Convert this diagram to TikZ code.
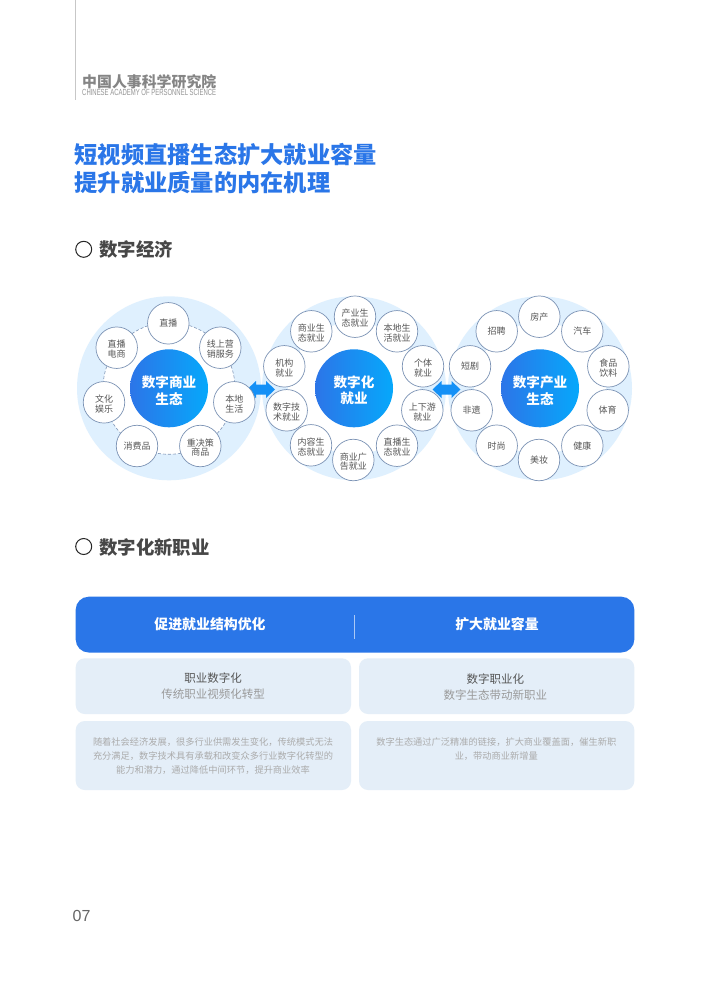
\documentclass[tikz,border=0pt]{standalone}
\usepackage{fontspec}
\usepackage{graphicx}
\setmainfont{Noto Sans CJK SC}
\newfontfamily\latinfont{Liberation Sans}
\usetikzlibrary{shadings}
\definecolor{brandblue}{HTML}{2A76E8}
\definecolor{haloblue}{HTML}{DFF0FE}
\definecolor{panelblue}{HTML}{E4EEF8}
\definecolor{ringblue}{HTML}{7C93B5}
\definecolor{gradL}{HTML}{2C75E8}
\definecolor{gradR}{HTML}{06A8FB}
\definecolor{darktxt}{HTML}{555555}
\definecolor{midtxt}{HTML}{9A9A9A}
\definecolor{lighttxt}{HTML}{ABABAB}
\definecolor{arrowblue}{HTML}{1490F6}
\newcommand{\satgap}{\rule{0pt}{10.8pt}}
\newcommand{\coregap}{\rule{0pt}{16.2pt}}
\tikzset{
  halo/.style={circle,fill=haloblue,minimum size=184pt,inner sep=0pt},
  innerwhite/.style={circle,fill=white,minimum size=132pt,inner sep=0pt},
  dashring/.style={circle,draw=ringblue,densely dashed,line width=.6pt,minimum size=132pt,inner sep=0pt},
  core/.style={circle,minimum size=78pt,inner sep=0pt,left color=gradL,right color=gradR,text=white,font=\fontsize{13.6}{16.4}\selectfont\bfseries,align=center},
  sat/.style={circle,draw=ringblue,line width=.7pt,fill=white,minimum size=41.5pt,inner sep=0pt,text=darktxt,font=\fontsize{9}{9.6}\selectfont,align=center},
  card/.style={rounded corners=9pt,fill=panelblue},
  twoway/.style={fill=arrowblue},
  headtxt/.style={text=white,font=\fontsize{13.9}{16}\selectfont\bfseries,inner sep=0pt},
  sectxt/.style={text=black!72,font=\fontsize{18.4}{20}\selectfont\bfseries,anchor=west,inner sep=0pt},
  secmark/.style={circle,draw=black!85,line width=1pt,minimum size=16pt,inner sep=0pt},
  titletxt/.style={text=brandblue,font=\fontsize{23.25}{27.7}\selectfont\bfseries,anchor=west,inner sep=0pt},
  roletxt/.style={text=darktxt,font=\fontsize{11.5}{14}\selectfont,inner sep=0pt},
  subtxt/.style={text=midtxt,font=\fontsize{11.5}{14}\selectfont,inner sep=0pt},
  bodytxt/.style={text=lighttxt,font=\fontsize{9.23}{13.8}\selectfont,align=center,inner sep=0pt},
}
\begin{document}
\begin{tikzpicture}[x=1pt,y=-1pt]
\useasboundingbox (0,0) rectangle (710,996);
\fill[white] (0,0) rectangle (710,996);
% header
\draw[black!22,line width=1pt] (75.7,0) -- (75.7,100);
\node[text=black!48,font=\fontsize{14.9}{15}\selectfont\bfseries,anchor=west,inner sep=0pt] (logocn) at (82,82) {中国人事科学研究院};
\node[text=black!42,anchor=west,inner sep=0pt] (logoen) at (82,92.3) {\resizebox{134pt}{6.2pt}{\latinfont CHINESE ACADEMY OF PERSONNEL SCIENCE}};
\node[titletxt] (title1) at (74.5,155) {短视频直播生态扩大就业容量};
\node[titletxt] (title2) at (74.5,182.7) {提升就业质量的内在机理};
\node[secmark] (mark1) at (83.7,249.3) {};
\node[sectxt] (sec1) at (99,249.8) {数字经济};
\node[secmark] (mark2) at (83.7,546.5) {};
\node[sectxt] (sec2) at (99,547.3) {数字化新职业};
% halos
\node[halo] (h1) at (169,388.3) {};
\node[halo] (h2) at (354,388.3) {};
\node[halo] (h3) at (540,388.3) {};
\node[innerwhite] (w1) at (169,388.3) {};
\node[innerwhite] (w2) at (354,388.3) {};
\node[innerwhite] (w3) at (540,388.3) {};
\node[dashring] (ring1) at (169,388.3) {};
% arrows
\fill[twoway] (247,389.5) -- (256,381) -- (256,384.5) -- (266,384.5) -- (266,381) -- (275,389.5) -- (266,398) -- (266,394.5) -- (256,394.5) -- (256,398) -- cycle;
\fill[twoway] (432.5,389.5) -- (441.5,381) -- (441.5,384.5) -- (451.5,384.5) -- (451.5,381) -- (460.5,389.5) -- (451.5,398) -- (451.5,394.5) -- (441.5,394.5) -- (441.5,398) -- cycle;
% cores
\node[core] (c1) at (169,388.3) {\coregap 数字商业\\生态};
\node[core] (c2) at (354,388.3) {\coregap 数字化\\就业};
\node[core] (c3) at (540,388.3) {\coregap 数字产业\\生态};
% left satellites
\node[sat] (a1) at (168.3,323.3) {直播};
\node[sat] (a2) at (220.3,347.7) {\satgap 线上营\\销服务};
\node[sat] (a3) at (234.3,402.3) {\satgap 本地\\生活};
\node[sat] (a4) at (200.3,446) {\satgap 重决策\\商品};
\node[sat] (a5) at (137,446) {消费品};
\node[sat] (a6) at (104,402.3) {\satgap 文化\\娱乐};
\node[sat] (a7) at (116.7,347.7) {\satgap 直播\\电商};
% middle satellites
\node[sat] (b1) at (355,316.7) {\satgap 产业生\\态就业};
\node[sat] (b2) at (397,331.3) {\satgap 本地生\\活就业};
\node[sat] (b3) at (423,366.3) {\satgap 个体\\就业};
\node[sat] (b4) at (422.3,410.3) {\satgap 上下游\\就业};
\node[sat] (b5) at (397,445.7) {\satgap 直播生\\态就业};
\node[sat] (b6) at (353.3,460) {\satgap 商业广\\告就业};
\node[sat] (b7) at (311,445.3) {\satgap 内容生\\态就业};
\node[sat] (b8) at (286.7,410.3) {\satgap 数字技\\术就业};
\node[sat] (b9) at (284.3,366.3) {\satgap 机构\\就业};
\node[sat] (b10) at (311.3,331.3) {\satgap 商业生\\态就业};
% right satellites
\node[sat] (d1) at (539.3,316.7) {房产};
\node[sat] (d2) at (582.3,331.3) {汽车};
\node[sat] (d3) at (608.3,366.3) {\satgap 食品\\饮料};
\node[sat] (d4) at (607.7,410.3) {体育};
\node[sat] (d5) at (582.3,445.7) {健康};
\node[sat] (d6) at (539,460) {美妆};
\node[sat] (d7) at (496.7,445.7) {时尚};
\node[sat] (d8) at (471.7,410.3) {非遗};
\node[sat] (d9) at (470,366.3) {短剧};
\node[sat] (d10) at (496.7,331.3) {招聘};
% panel
\fill[brandblue,rounded corners=13pt] (75.7,596.7) rectangle (634.3,652.5);
\draw[white!60!brandblue,line width=.5pt] (354.3,615) -- (354.3,639);
\node[headtxt] (p1) at (210,624) {促进就业结构优化};
\node[headtxt] (p2) at (497,624) {扩大就业容量};
\fill[card] (75.7,658.3) rectangle (351,714);
\fill[card] (359,658.3) rectangle (634.3,714);
\fill[card] (75.7,721) rectangle (351,790);
\fill[card] (359,721) rectangle (634.3,790);
\node[roletxt] (r1) at (213,678) {职业数字化};
\node[subtxt] (s1) at (213,693.7) {传统职业视频化转型};
\node[roletxt] (r2) at (495.3,679) {数字职业化};
\node[subtxt] (s2) at (495.3,695) {数字生态带动新职业};
\node[bodytxt] (t1) at (213,756) {随着社会经济发展，很多行业供需发生变化，传统模式无法\\充分满足，数字技术具有承载和改变众多行业数字化转型的\\能力和潜力，通过降低中间环节，提升商业效率};
\node[bodytxt] (t2) at (496.3,749) {数字生态通过广泛精准的链接，扩大商业覆盖面，催生新职\\业，带动商业新增量};
% page number
\node[text=black!60,font=\latinfont\fontsize{16}{18}\selectfont,anchor=west,inner sep=0pt] (pg) at (72.5,916) {07};
\end{tikzpicture}
\end{document}
